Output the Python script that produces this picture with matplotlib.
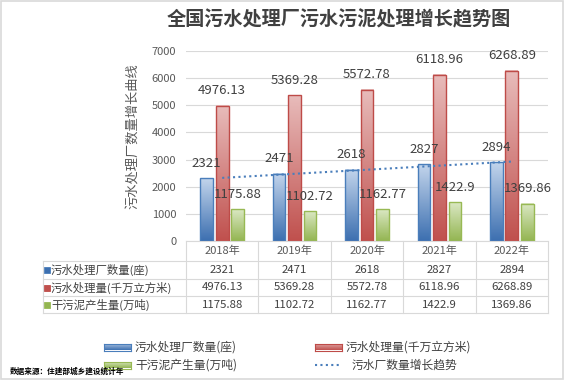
import numpy as np
import matplotlib
matplotlib.use("Agg")
import matplotlib.pyplot as plt
from matplotlib.colors import LinearSegmentedColormap
from matplotlib.patches import Rectangle
from matplotlib.lines import Line2D
import matplotlib.transforms as mtransforms

plt.rcParams['font.family'] = ['Noto Sans CJK SC', 'DejaVu Sans']

years = ["2018年", "2019年", "2020年", "2021年", "2022年"]
plants = [2321, 2471, 2618, 2827, 2894]
sewage = [4976.13, 5369.28, 5572.78, 6118.96, 6268.89]
sludge = [1175.88, 1102.72, 1162.77, 1422.9, 1369.86]
plant_lbl = ["2321", "2471", "2618", "2827", "2894"]
sewage_lbl = ["4976.13", "5369.28", "5572.78", "6118.96", "6268.89"]
sludge_lbl = ["1175.88", "1102.72", "1162.77", "1422.9", "1369.86"]
names = ["污水处理厂数量(座)", "污水处理量(千万立方米)", "干污泥产生量(万吨)"]
trend_name = "污水厂数量增长趋势"

W, H = 564, 380
fig = plt.figure(figsize=(W / 100, H / 100), dpi=100)

def fx(x):
    return x / W

def fy(y):
    return 1 - y / H

# outer border
fig.add_artist(Rectangle((0.001, 0.002), 0.997, 0.996, transform=fig.transFigure,
                         fill=False, edgecolor="#d9d9d9", lw=1.2))

ax = fig.add_axes([fx(186), fy(241), fx(548) - fx(186), fy(51) - fy(241)])
ax.set_xlim(-0.5, 4.5)
ax.set_ylim(0, 7000)
ax.set_yticks(range(0, 7001, 1000))
ax.tick_params(axis="y", length=0, labelsize=8, labelcolor="#595959", pad=7)
ax.set_xticks(range(5))
ax.set_xticklabels(years)
ax.tick_params(axis="x", length=0, labelsize=8, labelcolor="#595959", pad=3)
ax.grid(axis="y", color="#d9d9d9", lw=0.8)
ax.set_axisbelow(True)
for s in ["top", "right", "left"]:
    ax.spines[s].set_visible(False)
ax.spines["bottom"].set_color("#d9d9d9")

fig.text(fx(133), fy(136.5), "污水处理厂数量增长曲线", rotation=90, fontsize=9.5,
         color="#595959", ha="center", va="center")

series = [
    (plants, plant_lbl, "#3c6fb0", "#c3d5ec", "#4a7ebb"),
    (sewage, sewage_lbl, "#c0504d", "#e8bcbb", "#be4b48"),
    (sludge, sludge_lbl, "#93b551", "#dbe8c4", "#98b954"),
]
bw = 0.175
step = 0.214
grad = np.linspace(0, 1, 256).reshape(-1, 1)
for k, (vals, lbls, dark, light, edge) in enumerate(series):
    cmap = LinearSegmentedColormap.from_list("g%d" % k, [dark, light])
    for i, v in enumerate(vals):
        xc = i + (k - 1) * step
        ax.imshow(grad, cmap=cmap, origin="lower", aspect="auto",
                  extent=[xc - bw / 2, xc + bw / 2, 0, v], zorder=2)
        ax.add_patch(Rectangle((xc - bw / 2, 0), bw, v, fill=False,
                               edgecolor=edge, lw=1.0, zorder=3))
        ax.text(xc, v + 15 / 190 * 7000, lbls[i], ha="center", va="center",
                fontsize=9.5, color="#404040", zorder=5)

# linear trend line for plant counts
xs = np.arange(5)
p = np.polyfit(xs, plants, 1)
ax.plot(xs, np.polyval(p, xs), ls=(0, (1, 1.6)), color="#4a7ebb", lw=1.5, zorder=4)
ax.set_xlim(-0.5, 4.5)
ax.set_ylim(0, 7000)

# data table under the axes
tr = mtransforms.blended_transform_factory(ax.transData, ax.transAxes)
ah = 190.0
def ay(y):
    return (241 - y) / ah

x_left = (43 - 186) / 72.4 - 0.5
gc = "#d9d9d9"
for c in np.arange(-0.5, 5.0, 1.0):
    ax.add_line(Line2D([c, c], [0, ay(313)], transform=tr, color=gc, lw=0.8, clip_on=False))
ax.add_line(Line2D([x_left, x_left], [ay(261), ay(313)], transform=tr, color=gc, lw=0.8, clip_on=False))
for ry in [261, 279, 296, 313]:
    ax.add_line(Line2D([x_left, 4.5], [ay(ry), ay(ry)], transform=tr, color=gc, lw=0.8, clip_on=False))

rows = [plant_lbl, sewage_lbl, sludge_lbl]
row_y = [270, 287.5, 304.5]
for r in range(3):
    ax.add_patch(Rectangle((fx(44), fy(row_y[r]) - 3 / H), 6 / W, 6 / H,
                           transform=fig.transFigure, facecolor=series[r][2],
                           edgecolor=series[r][4], lw=0.6, clip_on=False))
    fig.text(fx(51), fy(row_y[r]), names[r], fontsize=8.2, color="#404040",
             ha="left", va="center")
    for i in range(5):
        ax.text(i, ay(row_y[r]), rows[r][i], transform=tr, fontsize=8.2,
                color="#404040", ha="center", va="center")

# legend
leg = [(104, 347, 0), (315, 347, 1), (104, 365, 2)]
for lx, ly, k in leg:
    cmap = LinearSegmentedColormap.from_list("l%d" % k, [series[k][2], series[k][3]])
    lax = fig.add_axes([fx(lx), fy(ly) - 3.5 / H, 27 / W, 7 / H])
    lax.imshow(grad, cmap=cmap, origin="lower", aspect="auto")
    lax.set_xticks([])
    lax.set_yticks([])
    for s in lax.spines.values():
        s.set_color(series[k][4])
        s.set_linewidth(0.8)
    fig.text(fx(lx + 31), fy(ly), names[k], fontsize=8.5, color="#404040",
             ha="left", va="center")
fig.add_artist(Line2D([fx(315), fx(342)], [fy(365), fy(365)], transform=fig.transFigure,
                      ls=(0, (1, 1.6)), color="#4a7ebb", lw=1.5))
fig.text(fx(352), fy(365), trend_name, fontsize=8.5, color="#404040", ha="left", va="center")

fig.text(fx(10), fy(371), "数据来源：住建部城乡建设统计年", fontsize=5.5, color="#000000",
         ha="left", va="center", fontweight="bold")

fig.text(fx(339), fy(20), "全国污水处理厂污水污泥处理增长趋势图", fontsize=13.8,
         fontweight="bold", color="#404040", ha="center", va="center")

fig.savefig("out.png", dpi=100)
